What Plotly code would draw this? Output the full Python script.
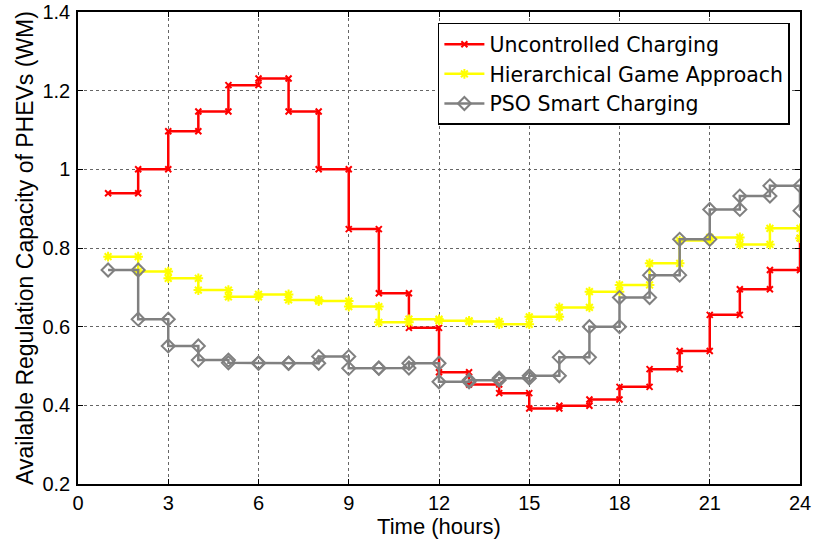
import plotly.graph_objects as go

hours = list(range(1, 25))
uncontrolled = [0.939, 1.000, 1.097, 1.147, 1.214, 1.231, 1.147, 1.000, 0.848, 0.685,
                0.597, 0.484, 0.453, 0.431, 0.392, 0.399, 0.415, 0.447, 0.492, 0.538,
                0.630, 0.695, 0.744, 0.825]
hierarchical = [0.778, 0.740, 0.723, 0.693, 0.676, 0.682, 0.668, 0.665, 0.651, 0.611,
                0.619, 0.615, 0.613, 0.606, 0.625, 0.649, 0.689, 0.706, 0.761, 0.819,
                0.827, 0.809, 0.850, 0.825]
pso = [0.744, 0.619, 0.551, 0.515, 0.508, 0.507, 0.507, 0.524, 0.494, 0.495,
       0.507, 0.460, 0.464, 0.469, 0.475, 0.522, 0.600, 0.674, 0.731, 0.822,
       0.898, 0.932, 0.958, 0.895]
names = ["Uncontrolled Charging", "Hierarchical Game Approach", "PSO Smart Charging"]
x_ticks = [0, 3, 6, 9, 12, 15, 18, 21, 24]
y_ticks = [0.2, 0.4, 0.6, 0.8, 1.0, 1.2, 1.4]
y_tick_text = ["0.2", "0.4", "0.6", "0.8", "1", "1.2", "1.4"]


def stairs(x, y):
    # MATLAB-style stairs vertices
    sx, sy = [x[0]], [y[0]]
    for i in range(1, len(x)):
        sx += [x[i], x[i]]
        sy += [y[i - 1], y[i]]
    return sx, sy


styles = [
    dict(color="#ff0000", symbol="x-thin-open", size=6),
    dict(color="#ffff00", symbol="asterisk-open", size=8),
    dict(color="#808080", symbol="diamond-open", size=10),
]

fig = go.Figure()
for name, data, st in zip(names, [uncontrolled, hierarchical, pso], styles):
    sx, sy = stairs(hours, data)
    fig.add_trace(go.Scatter(
        x=sx, y=sy, mode="lines+markers", name=name,
        line=dict(color=st["color"], width=2.5),
        marker=dict(symbol=st["symbol"], size=st["size"], color=st["color"],
                    line=dict(color=st["color"], width=2)),
    ))

FONT = "Liberation Sans, Arial, sans-serif"
axis_common = dict(
    showline=True, linecolor="black", linewidth=1.5, mirror="ticks",
    ticks="inside", ticklen=5, tickcolor="black",
    showgrid=True, gridcolor="#666666", griddash="dot", gridwidth=1,
    zeroline=False, automargin=False,
    tickfont=dict(family=FONT, size=20, color="black"),
)

fig.update_xaxes(range=[0, 24], tickvals=x_ticks, ticklabelstandoff=0, **axis_common,
                 title=dict(text="Time (hours)", font=dict(family=FONT, size=22, color="black"), standoff=0))
fig.update_yaxes(range=[0.2, 1.4], tickvals=y_ticks, ticktext=y_tick_text, ticklabelstandoff=2, **axis_common,
                 title=dict(text="Available Regulation Capacity of PHEVs (WM)", font=dict(family=FONT, size=23, color="black"), standoff=2))

fig.update_layout(
    width=814, height=543,
    margin=dict(l=78, r=14, t=12, b=59),
    plot_bgcolor="white", paper_bgcolor="white",
    legend=dict(
        x=0.986, y=0.977, xanchor="right", yanchor="top",
        bgcolor="white", bordercolor="black", borderwidth=1.5,
        font=dict(family="DejaVu Sans, sans-serif", size=20.5, color="black"),
        itemwidth=40, tracegroupgap=0,
    ),
)

fig.write_html("out.html")
